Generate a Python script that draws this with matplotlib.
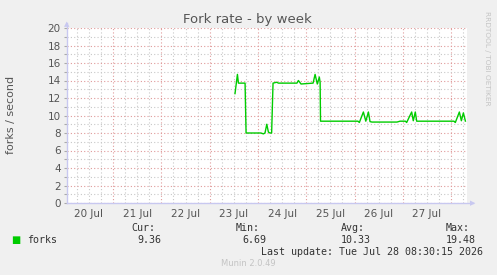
import pandas as pd
import matplotlib
matplotlib.use('Agg')
import matplotlib.pyplot as plt
import matplotlib.dates as mdates

# hours since 20 Jul 00:00 and forks/second
hours = [84.6, 85.8, 86.3, 89.6, 90.1, 97.5, 98.7, 99.5, 100.4, 101.2, 102.0, 102.8,
         103.5, 105.3, 106.2, 115.4, 116.1, 117.4, 123.4, 124.4, 125.5, 126.5, 126.9,
         127.1, 145.7, 146.4, 148.4, 149.6, 150.9, 151.7, 152.7, 165.1, 166.6, 169.3,
         169.9, 172.4, 173.2, 174.2, 174.9, 193.4, 194.1, 196.1, 197.1, 198.1, 199.1]
forks = [12.5, 14.7, 13.7, 13.7, 8.0, 8.0, 7.9, 8.0, 9.0, 8.1, 8.0, 8.0,
         13.7, 13.8, 13.7, 13.7, 14.0, 13.6, 13.7, 14.7, 13.6, 14.4, 13.8,
         9.35, 9.35, 9.2, 10.4, 9.35, 10.4, 9.3, 9.25, 9.25, 9.35, 9.35,
         9.2, 10.4, 9.4, 10.4, 9.35, 9.35, 9.2, 10.4, 9.4, 10.3, 9.36]

legend_stats = ["9.36", "6.69", "10.33", "19.48"]
stat_names = ["Cur:", "Min:", "Avg:", "Max:"]

start = pd.Timestamp('2026-07-20 00:00')
times = start + pd.to_timedelta(hours, unit='h')

bg = '#f0f0f0'
fig = plt.figure(figsize=(4.97, 2.75), dpi=100, facecolor=bg)
ax = fig.add_axes([67 / 497, 72 / 275, 400 / 497, 175 / 275])
ax.set_facecolor('white')

ax.plot(times, forks, color='#00cc00', linewidth=1.0, zorder=3)

ax.set_xlim(start + pd.Timedelta(hours=1.1), start + pd.Timedelta(hours=199.9))
ax.set_ylim(0, 20)

# grid: red day lines / gray 6h lines, red every 2 units / gray every 1
ax.xaxis.set_major_locator(mdates.DayLocator())
ax.xaxis.set_minor_locator(mdates.HourLocator(byhour=[6, 12, 18]))
ax.set_yticks(range(0, 21, 2))
ax.set_yticks(range(1, 21, 2), minor=True)
ax.grid(True, which='major', color='#e09a9a', linestyle=(0, (1, 2)), linewidth=0.8)
ax.grid(True, which='minor', color='#c8c8c8', linestyle=(0, (1, 2)), linewidth=0.8)
ax.tick_params(axis='x', which='both', length=0)
ax.tick_params(axis='y', which='both', length=2.5, width=0.8, color='#aaaaaa')
ax.set_xticklabels([])
ax.tick_params(axis='y', labelsize=7.5, labelcolor='#555555', pad=2)

# day labels centred at noon
for d in range(8):
    t = start + pd.Timedelta(days=d, hours=12)
    ax.text(t, -0.7, (start + pd.Timedelta(days=d)).strftime('%-d %b'),
            ha='center', va='top', fontsize=7.5, color='#555555')

for s in ax.spines.values():
    s.set_visible(False)
axis_col = '#c8c8f0'
fig.add_artist(plt.Line2D([67 / 497, 473 / 497], [72 / 275, 72 / 275], color=axis_col, lw=1))
fig.add_artist(plt.Line2D([67 / 497, 67 / 497], [72 / 275, 252 / 275], color=axis_col, lw=1))
fig.text(473 / 497, 72 / 275, '\u25b6', fontsize=5, color=axis_col, ha='center', va='center')
fig.text(67 / 497, 251 / 275, '\u25b2', fontsize=5, color=axis_col, ha='center', va='center')

fig.text(247 / 497, 1 - 19 / 275, 'Fork rate - by week', ha='center', va='center',
         fontsize=9.5, color='#555555')
fig.text(11 / 497, 1 - 115 / 275, 'forks / second', rotation=90, ha='center', va='center',
         fontsize=8, color='#555555')
fig.text(487 / 497, 1 - 58 / 275, 'RRDTOOL / TOBI OETIKER', rotation=270, ha='center',
         va='center', fontsize=5.3, color='#c4c4c4')

mono = 'DejaVu Sans Mono'
fs = 7.2
txt = '#333333'
name_x = [155, 260, 365, 470]
val_x = [161, 266, 371, 476]
for nx, vx, n, v in zip(name_x, val_x, stat_names, legend_stats):
    fig.text(nx / 497, 1 - 228 / 275, n, ha='right', va='center', family=mono, fontsize=fs, color=txt)
    fig.text(vx / 497, 1 - 240 / 275, v, ha='right', va='center', family=mono, fontsize=fs, color=txt)
fig.text(16 / 497, 1 - 240 / 275, '\u25a0', ha='center', va='center', fontsize=7, color='#00cc00')
fig.text(27 / 497, 1 - 240 / 275, 'forks', ha='left', va='center', family=mono, fontsize=fs, color=txt)
fig.text(483 / 497, 1 - 252 / 275, 'Last update: Tue Jul 28 08:30:15 2026', ha='right', va='center',
         family=mono, fontsize=fs, color=txt)
fig.text(248 / 497, 1 - 264 / 275, 'Munin 2.0.49', ha='center', va='center', fontsize=6,
         color='#c4c4c4')

fig.savefig('out.png', dpi=100, facecolor=bg)
